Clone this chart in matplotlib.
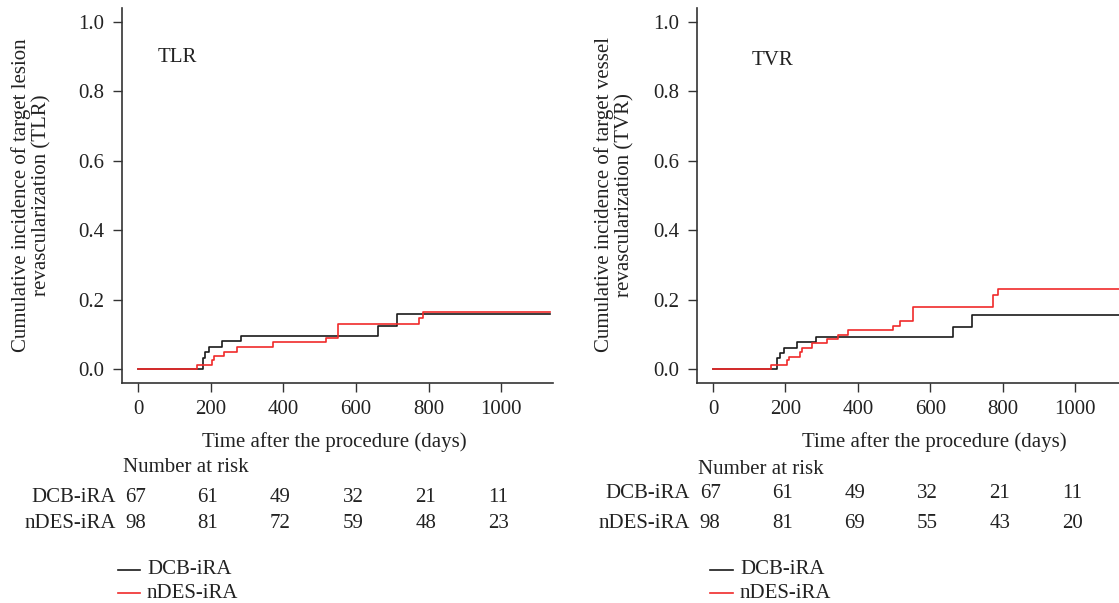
import matplotlib
matplotlib.use("Agg")
import matplotlib.pyplot as plt
import matplotlib.transforms as mtransforms

plt.rcParams['font.family'] = ['Liberation Serif', 'DejaVu Serif']

W, H = 1119, 603
FS = 15

# ---------------- data ----------------
x_ticks = [0, 200, 400, 600, 800, 1000]
y_ticks = [0.0, 0.2, 0.4, 0.6, 0.8, 1.0]
end_day = 1136

groups = ["DCB-iRA", "nDES-iRA"]

# TLR panel
tlr_dcb_t = [0, 177.6, 183, 195, 230, 283, 660, 714]
tlr_dcb_v = [0, 0.032, 0.048, 0.064, 0.080, 0.096, 0.123, 0.158]
tlr_ndes_t = [0, 161, 202, 209, 237, 271, 371, 517, 551, 774, 786]
tlr_ndes_v = [0, 0.012, 0.026, 0.037, 0.049, 0.063, 0.077, 0.089, 0.131, 0.147, 0.164]
tlr_risk_dcb = [67, 61, 49, 32, 21, 11]
tlr_risk_ndes = [98, 81, 72, 59, 48, 23]

# TVR panel
tvr_dcb_t = [0, 177.6, 184, 196, 231, 284, 662, 716]
tvr_dcb_v = [0, 0.031, 0.046, 0.062, 0.078, 0.093, 0.122, 0.155]
tvr_ndes_t = [0, 161, 203, 211, 239, 245, 273, 314, 344, 372, 496, 517, 551, 774, 788]
tvr_ndes_v = [0, 0.012, 0.025, 0.036, 0.048, 0.062, 0.075, 0.086, 0.099, 0.113, 0.125,
              0.140, 0.179, 0.213, 0.232]
tvr_risk_dcb = [67, 61, 49, 32, 21, 11]
tvr_risk_ndes = [98, 81, 69, 55, 43, 20]

BLACK = '#1a1a1a'
RED = '#f02a2a'
SPINE = '#333333'
TXT = '#222222'

fig = plt.figure(figsize=(W / 100, H / 100), dpi=100)


def fx(px):
    return px / W


def fy(py):
    return 1 - py / H


def panel(left_px, right_px, dcb_t, dcb_v, ndes_t, ndes_v, tag, tag_xy,
          ylabel, ylab_x, xlab_x, xlab_y, nar_y, rows_y, lab_right_px,
          risk_dcb, risk_ndes, leg_x0, leg_x1, leg_tx, leg_y):
    ax = fig.add_axes([fx(left_px), fy(383), fx(right_px - left_px), (383 - 8) / H])
    ax.step(dcb_t + [end_day], dcb_v + [dcb_v[-1]], where='post', color=BLACK, lw=1.2)
    ax.step(ndes_t + [end_day], ndes_v + [ndes_v[-1]], where='post', color=RED, lw=1.2)
    ax.set_xlim(-45, 1143)
    ax.set_ylim(-0.04, 1.04)
    ax.set_xticks(x_ticks)
    ax.set_xticklabels([str(v) for v in x_ticks])
    ax.set_yticks(y_ticks)
    ax.set_yticklabels([f"{v:.1f}" for v in y_ticks])
    for s in ['top', 'right']:
        ax.spines[s].set_visible(False)
    for s in ['left', 'bottom']:
        ax.spines[s].set_color(SPINE)
        ax.spines[s].set_linewidth(1.2)
    ax.tick_params(direction='out', length=6.5, width=1.0, color=SPINE,
                   labelsize=FS, labelcolor=TXT)
    ax.tick_params(axis='x', pad=6)
    ax.tick_params(axis='y', pad=6)
    ax.text(tag_xy[0], tag_xy[1], tag, fontsize=FS, color=TXT,
            ha='left', va='center')

    fig.text(fx(ylab_x), fy(195), ylabel, rotation=90, ha='center', va='center',
             multialignment='center', fontsize=FS, color=TXT, linespacing=1.1)
    fig.text(fx(xlab_x), fy(xlab_y), "Time after the procedure (days)",
             ha='center', va='center', fontsize=FS, color=TXT)
    fig.text(fx(left_px + 1), fy(nar_y), "Number at risk", ha='left', va='center',
             fontsize=FS, color=TXT)

    trans = mtransforms.blended_transform_factory(ax.transData, fig.transFigure)
    for name, risk, ry in zip(groups, [risk_dcb, risk_ndes], rows_y):
        fig.text(fx(lab_right_px), fy(ry), name, ha='right', va='center',
                 fontsize=FS, color=TXT)
        for t, n in zip(x_ticks, risk):
            ax.text(t - 8, fy(ry), str(n), transform=trans, ha='center', va='center',
                    fontsize=FS, color=TXT, clip_on=False)

    for name, col, ly in zip(groups, [BLACK, RED], leg_y):
        fig.add_artist(plt.Line2D([fx(leg_x0), fx(leg_x1)], [fy(ly), fy(ly)],
                                  color=col, lw=1.2, transform=fig.transFigure))
        fig.text(fx(leg_tx), fy(ly), name, ha='left', va='center', fontsize=FS,
                 color=TXT)
    return ax


panel(122, 553, tlr_dcb_t, tlr_dcb_v, tlr_ndes_t, tlr_ndes_v, "TLR", (52, 0.898),
      "Cumulative incidence of target lesion\nrevascularization (TLR)", 31.5,
      334, 442, 467, [497, 523], 116, tlr_risk_dcb, tlr_risk_ndes,
      118, 140, 147, [570, 593])

panel(696.7, 1127, tvr_dcb_t, tvr_dcb_v, tvr_ndes_t, tvr_ndes_v, "TVR", (108, 0.89),
      "Cumulative incidence of target vessel\nrevascularization (TVR)", 614.5,
      934, 442, 469, [493, 524], 690, tvr_risk_dcb, tvr_risk_ndes,
      710, 733, 740, [570, 593])

fig.savefig("out.png", dpi=100)
